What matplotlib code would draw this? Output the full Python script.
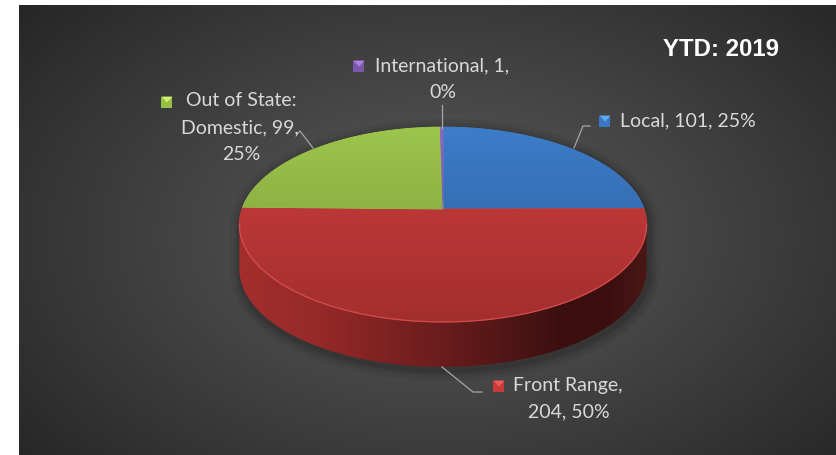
import numpy as np
import matplotlib
matplotlib.use("Agg")
import matplotlib.pyplot as plt
from matplotlib.patches import Polygon, Rectangle
from matplotlib.colors import LinearSegmentedColormap, to_rgb

# ---- data ----
categories = ["Local", "Front Range", "Out of State: Domestic", "International"]
values = [101, 204, 99, 1]
percent_labels = ["25%", "50%", "25%", "0%"]
title = "YTD: 2019"

# ---- style ----
top_colors = [("#3d7dca", "#2b5a98"), ("#cd3f3e", "#a32e2e"),
              ("#9dc64c", "#76983a"), ("#8e68bc", "#6a4a96")]
key_colors = ["#3b78c2", "#c83a3a", "#96bf48", "#7c58aa"]
label_color = "#d9d9d9"
leader_color = "#a6a6a6"

W, H = 837, 455
fig = plt.figure(figsize=(W / 100, H / 100), dpi=100, facecolor="white")
ax = fig.add_axes([0, 0, 1, 1])
ax.set_xlim(0, W)
ax.set_ylim(H, 0)
ax.axis("off")

# ---- radial background ----
x0b, x1b, y0b, y1b = 19, 836, 5, 455
yy, xx = np.mgrid[y0b:y1b, x0b:x1b]
d = np.sqrt(((xx - 440) / 560.0) ** 2 + ((yy - 235) / 360.0) ** 2)
d = np.clip(d, 0, 1)
g = (0x5a - (0x5a - 0x25) * d ** 1.1) / 255.0
bg = np.dstack([g, g, g])
ax.imshow(bg, extent=[x0b, x1b, y1b, y0b], origin="upper", aspect="auto",
          interpolation="bilinear", zorder=0)

# ---- perspective pie geometry ----
CX, CY, A, B, K, DEPTH = 443.0, 209.0, 201.0, 95.0, 0.159, 45.0


def proj(th_deg, drop=0.0):
    t = np.radians(th_deg)
    u, v = np.cos(t), np.sin(t)
    s = 1.0 / (1.0 + K * v)
    return CX + A * u * s, CY - B * v * s + drop


# silhouette angles (extreme x of the top ellipse)
ths = np.linspace(-270, 90, 7201)
xs, _ = proj(ths)
th_right = ths[np.argmax(xs)]          # about -9 deg
th_left = ths[np.argmin(xs)]           # about -171 deg

total = float(sum(values))
fracs = np.array(values) / total
cum = np.concatenate([[0], np.cumsum(fracs)])
starts = 90 - 360 * cum[:-1]
ends = 90 - 360 * cum[1:]

# soft shadow round the whole body
sil_top = np.linspace(th_right, 360 + th_left, 300)  # back arc via 90 deg
sx1, sy1 = proj(sil_top)
sil_bot = np.linspace(th_left, th_right, 300)
sx2, sy2 = proj(sil_bot, DEPTH)
sil = np.column_stack([np.concatenate([sx1, sx2]), np.concatenate([sy1, sy2])])
for lw, al in [(16, 0.05), (11, 0.06), (7, 0.07), (4, 0.08)]:
    ax.add_patch(Polygon(sil + [2, 3], closed=True, facecolor="none",
                         edgecolor="black", lw=lw, alpha=al, zorder=1,
                         joinstyle="round"))

# ---- side wall ----
side_cmap = LinearSegmentedColormap.from_list(
    "side", [(0.0, "#a52e2e"), (0.2, "#962929"), (0.5, "#6a1c1c"),
             (0.78, "#3d1010"), (0.9, "#3b0f0f"), (1.0, "#4c1616")])
for i in range(len(values)):
    lo, hi = ends[i], starts[i]
    a0, a1 = max(lo, th_left), min(hi, th_right)
    if a1 <= a0:
        continue
    tt = np.linspace(a0, a1, 200)
    tx, ty = proj(tt)
    bx, by = proj(tt[::-1], DEPTH)
    poly = Polygon(np.column_stack([np.concatenate([tx, bx]),
                                    np.concatenate([ty, by])]),
                   closed=True, facecolor="none", edgecolor="none", zorder=2)
    ax.add_patch(poly)
    grad = np.linspace(0, 1, 256)[None, :]
    rgba = side_cmap(grad)
    if i != 1:
        base = np.array(to_rgb(key_colors[i]))
        rgba[..., :3] = base * (1 - 0.6 * grad[..., None])
    im = ax.imshow(rgba, extent=[CX - A - 5, CX + A + 5, 380, 200],
                   origin="upper", aspect="auto", interpolation="bilinear",
                   zorder=2)
    im.set_clip_path(poly)

# ---- top faces ----
for i in range(len(values)):
    tt = np.linspace(starts[i], ends[i], max(3, int(abs(starts[i] - ends[i]) * 2)))
    ax_, ay_ = proj(tt)
    pts = np.column_stack([np.concatenate([[CX], ax_]),
                           np.concatenate([[CY], ay_])])
    poly = Polygon(pts, closed=True, facecolor=top_colors[i][0],
                   edgecolor=top_colors[i][0], lw=0.6, zorder=3)
    ax.add_patch(poly)
    c0 = np.array(to_rgb(top_colors[i][0]))
    c1 = np.array(to_rgb(top_colors[i][1]))
    gv = np.linspace(0, 1, 256)[:, None, None]
    img = c0 * (1 - gv) + c1 * gv
    im = ax.imshow(img, extent=[CX - A - 5, CX + A + 5, 324, 125],
                   origin="upper", aspect="auto", interpolation="bilinear",
                   zorder=3)
    im.set_clip_path(poly)

# light rim along the front edge of the top face
rim = np.linspace(th_left, th_right, 300)
rx, ry = proj(rim)
ax.plot(rx, ry, color="#e05656", lw=1.0, alpha=0.65, zorder=4)

# ---- data labels ----
FONT = "Lato"
FS = 14


def key_square(cx, cy, color, size=11):
    h = size / 2
    ax.add_patch(Rectangle((cx - h, cy - h), size, size, facecolor=color,
                           edgecolor="none", zorder=6))
    light = tuple(min(1, c * 1.35 + 0.08) for c in to_rgb(color))
    ax.add_patch(Polygon([[cx - h, cy - h], [cx + h, cy - h], [cx, cy + 0.5]],
                         closed=True, facecolor=light, edgecolor="none",
                         alpha=0.8, zorder=6))


def lbl(x, y, s, ha="left"):
    ax.text(x, y, s, color=label_color, fontsize=FS, family=FONT,
            ha=ha, va="center", zorder=7)


# Local
key_square(605, 121, key_colors[0])
lbl(620, 121, f"{categories[0]}, {values[0]}, {percent_labels[0]}")
ax.plot([590, 583, 574], [126, 126, 148], color=leader_color, lw=0.9, zorder=5)

# Front Range
key_square(499, 386, key_colors[1])
lbl(513, 386, f"{categories[1]},")
lbl(569, 412, f"{values[1]}, {percent_labels[1]}", ha="center")
ax.plot([442, 473, 482], [367, 392, 392], color=leader_color, lw=0.9, zorder=5)

# Out of State: Domestic (wrapped over three lines)
head, tail = categories[2].split(": ")
key_square(167, 102, key_colors[2])
lbl(241, 101, head + ":", ha="center")
lbl(240, 128, f"{tail}, {values[2]},", ha="center")
lbl(241, 155, percent_labels[2], ha="center")
ax.plot([297, 300, 313], [134, 131, 148], color=leader_color, lw=0.9, zorder=5)

# International
key_square(359, 66, key_colors[3])
lbl(375, 66, f"{categories[3]}, {values[3]},")
lbl(443, 92, percent_labels[3], ha="center")
ax.plot([442, 442], [105, 128], color=leader_color, lw=0.9, zorder=5)

# ---- title ----
ax.text(779, 50, title, color="white", fontsize=17.3, family="Liberation Sans",
        weight="bold", ha="right", va="center", zorder=7)

fig.savefig("out.png", dpi=100, facecolor="white")
